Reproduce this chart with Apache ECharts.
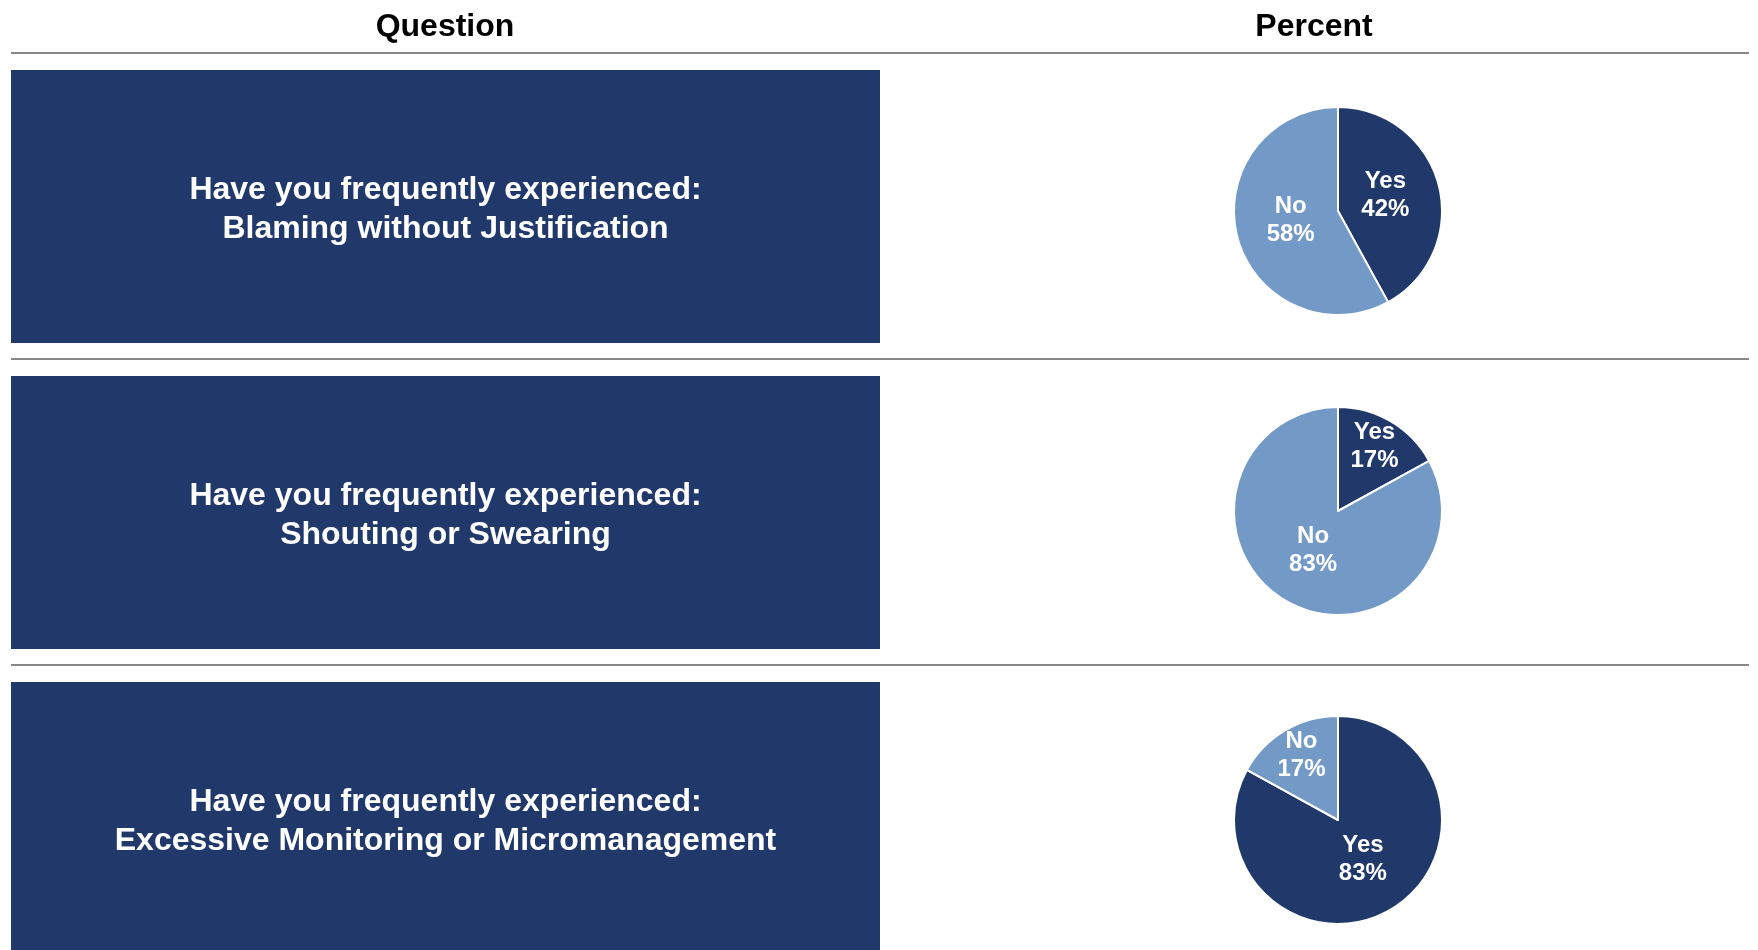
<!DOCTYPE html>
<html>
<head>
<meta charset="utf-8">
<script src="https://cdn.jsdelivr.net/npm/echarts@6/dist/echarts.min.js"></script>
<style>
  html, body { margin: 0; padding: 0; background: #fff; }
  #main { width: 1758px; height: 950px; }
</style>
</head>
<body>
<div id="main"></div>
<script>
  // data
  var headers = ['Question', 'Percent'];
  var questionPrefix = 'Have you frequently experienced:';
  var questions = ['Blaming without Justification', 'Shouting or Swearing', 'Excessive Monitoring or Micromanagement'];
  var answerNames = ['Yes', 'No'];
  var yesValues = [42, 17, 83];
  var noValues = [58, 83, 17];

  var navy = '#20386a';
  var lightBlue = '#7399c6';
  var font = '"Liberation Sans", Arial, sans-serif';

  // layout (px)
  var rowTop = 70, rowStep = 306, rowHeight = 273;
  var boxLeft = 11, boxWidth = 869;
  var pieX = 1338, pieR = 104;
  var pieY = [211, 511, 820];
  var ruleY = [53, 359, 665];

  var graphics = [];
  [445, 1314].forEach(function (x, i) {
    graphics.push({
      type: 'text', x: x, y: 27,
      style: {
        text: headers[i], textAlign: 'center', textVerticalAlign: 'middle',
        font: 'bold 32px ' + font, fill: '#000'
      }
    });
  });
  ruleY.forEach(function (y) {
    graphics.push({
      type: 'line',
      shape: { x1: 11, y1: y, x2: 1749, y2: y },
      style: { stroke: '#5f5f5f', lineWidth: 1.5 }
    });
  });
  questions.forEach(function (q, i) {
    var top = rowTop + i * rowStep;
    graphics.push({
      type: 'rect',
      shape: { x: boxLeft, y: top, width: boxWidth, height: rowHeight },
      style: { fill: navy }
    });
    graphics.push({
      type: 'text',
      x: boxLeft + boxWidth / 2,
      y: top + rowHeight / 2 + 3,
      style: {
        text: questionPrefix + '\n' + q,
        textAlign: 'center',
        textVerticalAlign: 'middle',
        font: 'bold 32px ' + font,
        lineHeight: 39,
        fill: '#fff'
      }
    });
  });

  // push labels of small slices further out, like the original
  function placeLabel(p) {
    var vals = [yesValues[p.seriesIndex], noValues[p.seriesIndex]];
    var v = vals[p.dataIndex];
    var r = p.labelRect;
    var vx = r.x + r.width / 2 - pieX;
    var vy = r.y + r.height / 2 - pieY[p.seriesIndex];
    var d = Math.sqrt(vx * vx + vy * vy) || 1;
    var target = (v < 25 ? 0.69 : 0.47) * pieR;
    var k = target / d - 1;
    return { dx: vx * k, dy: vy * k - 3 };
  }

  var series = questions.map(function (q, i) {
    return {
      type: 'pie',
      center: [pieX, pieY[i]],
      radius: [0, pieR],
      startAngle: 90,
      clockwise: true,
      animation: false,
      silent: true,
      itemStyle: { borderColor: '#fff', borderWidth: 2 },
      label: {
        show: true,
        position: 'inside',
        formatter: '{b}\n{c}%',
        color: '#fff',
        fontFamily: font,
        fontWeight: 'bold',
        fontSize: 24,
        lineHeight: 28
      },
      labelLine: { show: false },
      labelLayout: placeLabel,
      data: [
        { name: answerNames[0], value: yesValues[i], itemStyle: { color: navy } },
        { name: answerNames[1], value: noValues[i], itemStyle: { color: lightBlue } }
      ]
    };
  });

  var chart = echarts.init(document.getElementById('main'));
  chart.setOption({
    backgroundColor: '#fff',
    graphic: graphics,
    series: series
  });
</script>
</body>
</html>
